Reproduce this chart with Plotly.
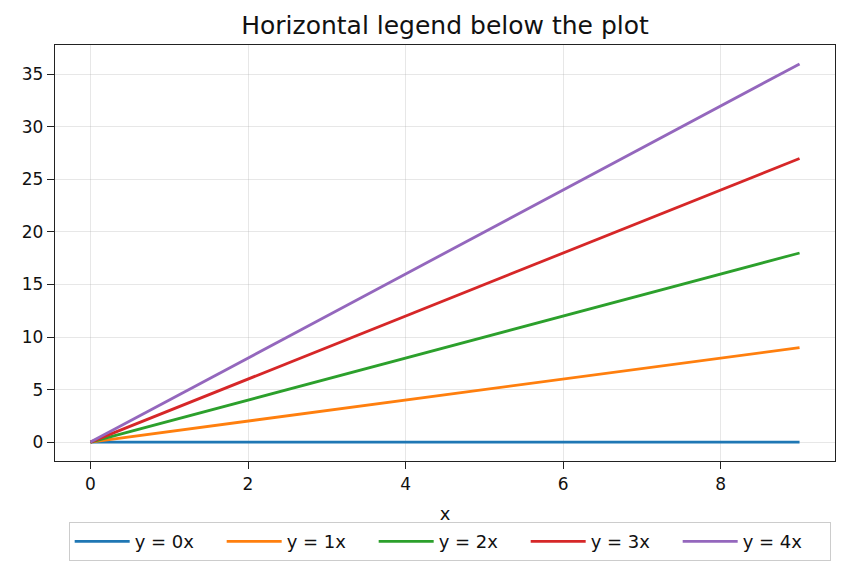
import plotly.graph_objects as go

x_vals = [0, 1, 2, 3, 4, 5, 6, 7, 8, 9]
slopes = [0, 1, 2, 3, 4]
series_names = ["y = 0x", "y = 1x", "y = 2x", "y = 3x", "y = 4x"]
series_values = [[k * v for v in x_vals] for k in slopes]
colors = ["#1f77b4", "#ff7f0e", "#2ca02c", "#d62728", "#9467bd"]
x_ticks = [0, 2, 4, 6, 8]
y_ticks = [0, 5, 10, 15, 20, 25, 30, 35]

fig = go.Figure()
for name, ys, c in zip(series_names, series_values, colors):
    fig.add_trace(go.Scatter(x=x_vals, y=ys, mode="lines", name=name,
                             line=dict(color=c, width=2.8)))

axis_common = dict(showline=True, linecolor="#222", linewidth=1.3, mirror=True,
                   ticks="outside", ticklen=7, tickwidth=1.3, tickcolor="#222",
                   showgrid=True, gridcolor="rgba(176,176,176,0.3)", gridwidth=1,
                   zeroline=False, tickfont=dict(size=17, color="#111"))

fig.update_layout(
    width=848, height=571,
    paper_bgcolor="white", plot_bgcolor="white",
    font=dict(family="DejaVu Sans", color="#111"),
    margin=dict(l=55, r=13, t=45, b=110, autoexpand=False),
    title=dict(text="Horizontal legend below the plot", x=0.5, xanchor="center", xref="paper",
               y=1 - 25 / 571, yanchor="middle", font=dict(size=25)),
    xaxis=dict(range=[-0.45, 9.45], tickvals=x_ticks,
               title=dict(text="x", font=dict(size=18), standoff=14), **axis_common),
    yaxis=dict(range=[-1.8, 37.8], tickvals=y_ticks, **axis_common),
    legend=dict(orientation="h", x=0.506, xanchor="center", y=-0.147, yanchor="top",
                bordercolor="#cccccc", borderwidth=1, font=dict(size=18),
                entrywidth=82, itemwidth=55),
    showlegend=True,
)
fig.write_html("out.html")
